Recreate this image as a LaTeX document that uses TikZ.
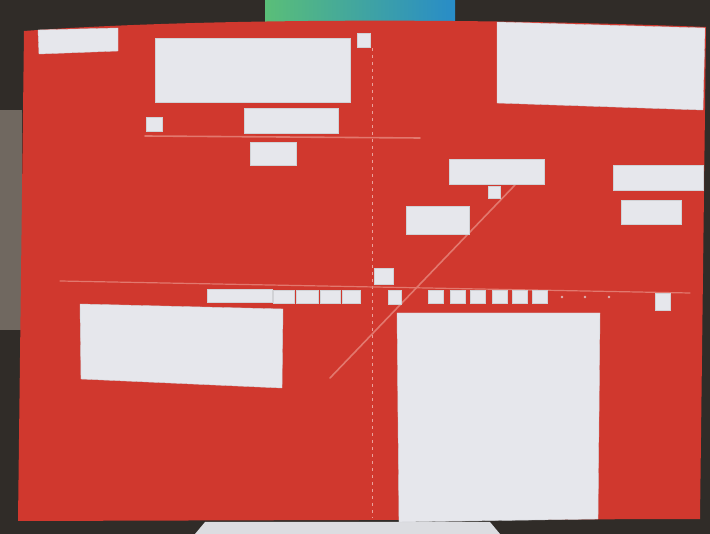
\documentclass[tikz,border=0pt]{standalone}
\usepackage{tikz}
\definecolor{boardred}{RGB}{208,56,46}
\definecolor{paperwhite}{RGB}{230,231,236}
\definecolor{roomdark}{RGB}{48,44,40}
\definecolor{roomgrey}{RGB}{112,104,96}
\definecolor{screenblue}{RGB}{40,140,200}
\definecolor{screengreen}{RGB}{90,190,120}
\definecolor{tapepink}{RGB}{226,120,110}
\tikzset{
  paper/.style={fill=paperwhite, draw=paperwhite!80!gray, line width=0.4pt},
  tape/.style={tapepink, line width=1.6pt, line cap=round},
  axis/.style={tapepink!70!white, line width=1pt, dash pattern=on 3pt off 4pt}
}

\begin{document}
\begin{tikzpicture}[x=1pt, y=-1pt]
    \useasboundingbox (0,0) rectangle (710,534);

    % Room behind the board
    \fill[roomdark] (0,0) rectangle (710,534);
    \fill[roomgrey] (0,110) rectangle (22,330);
    \shade[left color=screengreen, right color=screenblue] (265,0) rectangle (455,24);
    \fill[paperwhite!90!gray] (195,534) -- (205,522) -- (490,522) -- (500,534) -- cycle;

    % Red board
    \fill[boardred] (24,31) .. controls (200,18) and (480,18) .. (706,27)
        -- (700,519) -- (18,521) -- cycle;

    % Axes and tape lines
    \draw[axis] (372,48) -- (372,518);
    \draw[tape, line width=1.2pt] (60,281) -- (690,293);
    \draw[tape] (145,136) -- (420,138);
    \draw[tape] (330,378) -- (515,185);

    % Top row of sheets
    \fill[paper] (38,30) -- (118,28) -- (118,51) -- (39,54) -- cycle;
    \fill[paper] (155,38) rectangle (350,102);
    \fill[paper] (357,33) rectangle (370,47);
    \fill[paper] (497,22) -- (705,28) -- (703,110) -- (497,103) -- cycle;

    % Upper left quadrant
    \fill[paper] (146,117) rectangle (162,131);
    \fill[paper] (244,108) rectangle (338,133);
    \fill[paper] (250,142) rectangle (296,165);

    % Upper right quadrant
    \fill[paper] (449,159) rectangle (544,184);
    \fill[paper] (488,186) rectangle (500,198);
    \fill[paper] (613,165) rectangle (703,190);
    \fill[paper] (621,200) rectangle (681,224);
    \fill[paper] (406,206) rectangle (469,234);

    % Labels along the horizontal axis
    \fill[paper] (374,268) rectangle (393,284);
    \fill[paper] (207,289) rectangle (272,302);
    \foreach \xa/\xb in {273/294, 296/318, 320/340, 342/360}
        \fill[paper] (\xa,290) rectangle (\xb,303);
    \fill[paper] (388,290) rectangle (401,304);
    \foreach \xa in {428, 450, 470, 492, 512, 532}
        \fill[paper] (\xa,290) rectangle ++(15,13);
    \foreach \xa in {562, 585, 609}
        \fill[paperwhite!70!boardred] (\xa,297) circle (1.3);
    \fill[paper] (655,293) rectangle (670,310);

    % Bottom sheets
    \fill[paper] (80,304) -- (283,309) -- (282,388) -- (81,379) -- cycle;
    \fill[paper] (397,313) -- (600,313) -- (598,519) -- (399,522) -- cycle;
\end{tikzpicture}
\end{document}
